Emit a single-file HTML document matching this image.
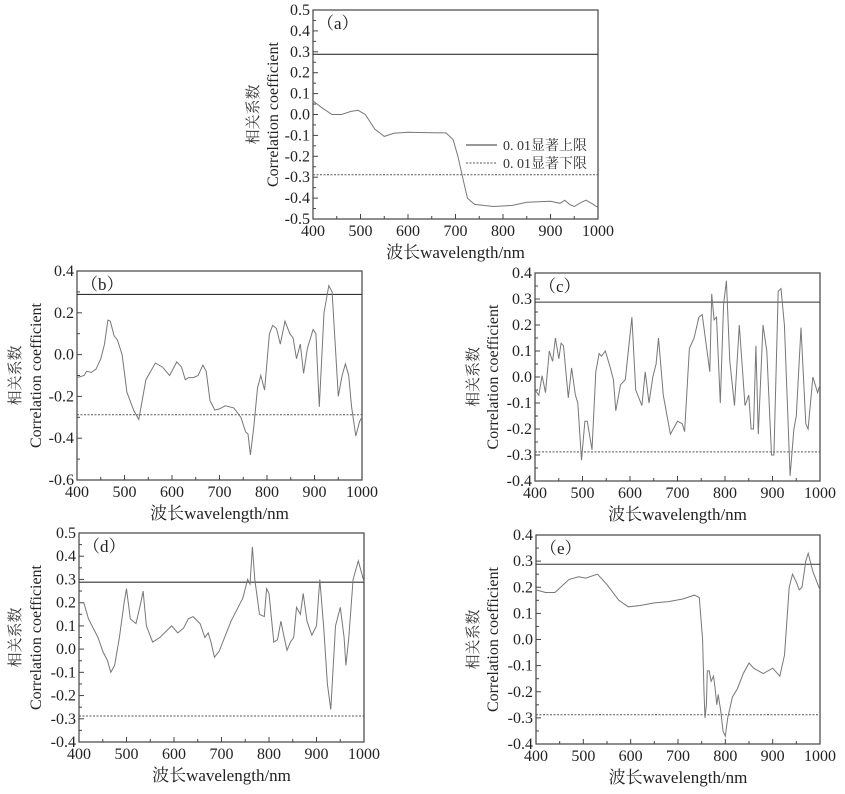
<!DOCTYPE html>
<html><head><meta charset="utf-8"><style>
body{margin:0;background:#fff;}
svg{display:block;font-family:"Liberation Serif","Noto Serif CJK SC","Noto Sans CJK SC",serif;}
</style></head><body>
<svg id="fig" width="845" height="794" xmlns="http://www.w3.org/2000/svg"></svg>
<script>
const threshold = 0.288;
const aX=[400,420,440,460,480,495,510,530,550,570,600,650,680,695,705,715,725,740,780,820,850,900,920,930,940,950,965,975,990,1000];
const aY=[.065,.03,0,0,.015,.02,0,-.07,-.105,-.09,-.085,-.087,-.088,-.12,-.2,-.3,-.4,-.43,-.44,-.435,-.42,-.415,-.425,-.41,-.43,-.44,-.42,-.41,-.43,-.445];
const bX=[400,415,420,430,440,450,458,465,470,478,485,495,505,520,530,545,565,580,595,610,620,628,635,645,655,665,672,680,690,700,712,730,745,755,760,765,772,780,787,795,805,812,820,828,838,848,855,862,870,877,885,897,903,910,920,930,937,950,958,965,972,978,987,995,1000];
const bY=[-.11,-.1,-.08,-.085,-.07,-.02,.05,.165,.16,.09,.07,0,-.18,-.27,-.31,-.12,-.04,-.06,-.1,-.035,-.06,-.12,-.11,-.11,-.1,-.05,-.08,-.22,-.265,-.26,-.245,-.255,-.3,-.37,-.38,-.48,-.35,-.16,-.1,-.17,.1,.14,.125,.05,.16,.1,.08,-.02,.05,-.09,.03,.12,.1,-.25,.2,.33,.3,-.2,-.1,-.045,-.1,-.25,-.39,-.32,-.3];
const cX=[400,408,415,422,430,437,443,450,455,460,470,477,485,490,498,505,510,520,528,535,540,548,558,565,570,580,590,604,612,625,632,640,648,655,660,670,685,700,710,715,725,735,745,752,760,768,772,777,782,790,797,803,810,820,830,842,850,855,860,865,870,880,888,898,903,912,918,925,937,945,950,960,970,975,985,995,1000];
const cY=[-.05,-.07,.005,-.06,.1,.06,.15,.07,.13,.12,-.08,.035,-.07,-.1,-.32,-.17,-.17,-.28,.02,.09,.08,.1,.04,-.01,-.13,-.03,-.01,.23,-.05,-.11,.02,-.1,0,.05,.15,-.07,-.22,-.17,-.18,-.21,.11,.15,.23,.24,.13,.02,.32,.22,.23,-.1,.28,.37,.06,-.11,.2,-.11,-.07,-.2,-.2,.12,-.22,.2,.1,-.3,-.3,.33,.34,.2,-.38,-.2,-.15,.19,-.18,-.2,0,-.06,-.03];
const dX=[400,410,420,440,450,460,467,475,485,495,500,508,520,530,535,542,555,570,595,608,620,630,640,655,665,672,678,685,695,720,745,755,760,765,770,780,790,795,800,810,818,825,832,838,845,852,858,866,872,880,890,900,907,915,923,930,940,950,958,962,968,977,988,1000];
const dY=[.2,.2,.13,.05,-.01,-.05,-.1,-.07,.05,.2,.26,.13,.11,.2,.25,.1,.03,.05,.1,.07,.09,.13,.14,.11,.05,.07,.03,-.035,-.01,.12,.22,.3,.28,.44,.3,.15,.14,.26,.24,.03,.04,.12,.05,-.005,.03,.05,.18,.15,.24,.12,.06,.1,.3,.1,-.15,-.26,.1,.18,.05,-.07,.05,.3,.38,.29];
const eX=[400,420,440,470,490,505,530,550,575,595,620,650,680,710,735,745,752,755,757,760,762,766,770,775,778,782,785,790,795,800,805,815,825,838,850,860,880,900,915,925,935,942,950,956,962,970,975,985,1000];
const eY=[.19,.18,.18,.23,.24,.235,.25,.21,.15,.125,.13,.14,.145,.155,.17,.16,0,-.2,-.3,-.25,-.12,-.12,-.16,-.14,-.18,-.25,-.21,-.27,-.35,-.37,-.3,-.22,-.19,-.13,-.09,-.11,-.13,-.11,-.14,-.06,.2,.25,.22,.19,.2,.3,.33,.26,.19];
const xTicks=[400,500,600,700,800,900,1000];
const aTicks=[-.5,-.4,-.3,-.2,-.1,0,.1,.2,.3,.4,.5];
const bTicks=[-.6,-.4,-.2,0,.2,.4];
const cTicks=[-.4,-.3,-.2,-.1,0,.1,.2,.3,.4];
const dTicks=[-.4,-.3,-.2,-.1,0,.1,.2,.3,.4,.5];
const eTicks=[-.4,-.3,-.2,-.1,0,.1,.2,.3,.4];

const NS="http://www.w3.org/2000/svg";
const svg=document.getElementById('fig');
function mk(tag,attrs,parent,text){const e=document.createElementNS(NS,tag);for(const k in attrs)e.setAttribute(k,attrs[k]);if(text!==undefined)e.textContent=text;(parent||svg).appendChild(e);return e;}
function fmt(v,dec){return v.toFixed(dec);}

function panel(id,L,R,T,B,ymin,ymax,yTicks,dec,xs,ys,ytX1,ytX2,legend){
  const g=mk('g',{});
  
  
  const sx=v=>L+(v-400)/600*(R-L);
  const sy=v=>B-(v-ymin)/(ymax-ymin)*(B-T);
  const frame=mk('rect',{x:L,y:T,width:R-L,height:B-T,fill:'none',stroke:'#444','stroke-width':1.2},g);
  
  
  // x ticks
  xTicks.forEach((t,i)=>{
    mk('line',{x1:sx(t),x2:sx(t),y1:B,y2:B-5,stroke:'#444'},g);
    if(i<xTicks.length-1) mk('line',{x1:sx(t+50),x2:sx(t+50),y1:B,y2:B-3,stroke:'#444'},g);
    const tx=mk('text',{x:sx(t),y:B+17,'font-size':16,'text-anchor':'middle',fill:'#222'},g,String(t));
    
    
  });
  yTicks.forEach((t,i)=>{
    mk('line',{x1:L,x2:L+5,y1:sy(t),y2:sy(t),stroke:'#444'},g);
    if(i<yTicks.length-1){const m=(t+yTicks[i+1])/2;mk('line',{x1:L,x2:L+3,y1:sy(m),y2:sy(m),stroke:'#444'},g);}
    const ty=mk('text',{x:L-3,y:sy(t)+5,'font-size':16,'text-anchor':'end',fill:'#222'},g,fmt(t,dec));
    
    
  });
  const up=mk('line',{x1:L,x2:R,y1:sy(threshold),y2:sy(threshold),stroke:'#333','stroke-width':1.1},g);
  
  
  const lo=mk('line',{x1:L,x2:R,y1:sy(-threshold),y2:sy(-threshold),stroke:'#555','stroke-width':1,'stroke-dasharray':'2,1.5'},g);
  
  
  const pts=xs.map((x,i)=>sx(x).toFixed(1)+','+sy(ys[i]).toFixed(1)).join(' ');
  const pl=mk('polyline',{points:pts,fill:'none',stroke:'#777','stroke-width':1},g);
  
  
  const lab=mk('text',{x:L+4,y:T+19,'font-size':17,fill:'#222'},g,'（'+id+'）');
  
  
  const cy=(T+B)/2;
  const t1=mk('text',{x:ytX1,y:cy,'font-size':15,'text-anchor':'middle',fill:'#333',transform:'rotate(-90 '+ytX1+' '+cy+')'},g,'相关系数');
  
  
  const t2=mk('text',{x:ytX2,y:cy,'font-size':16,'text-anchor':'middle',fill:'#222',transform:'rotate(-90 '+ytX2+' '+cy+')'},g,'Correlation coefficient');
  
  
  const xt=mk('text',{x:(L+R)/2,y:B+39,'font-size':17,'text-anchor':'middle',fill:'#222'},g,'波长wavelength/nm');
  
  
  if(legend){
    const lg=mk('g',{},g);
    
    
    mk('line',{x1:466,x2:497,y1:145,y2:145,stroke:'#333'},lg);
    const e1=mk('text',{x:503,y:150,'font-size':14,fill:'#333'},lg,'0. 01显著上限');
    
    
    mk('line',{x1:466,x2:497,y1:163,y2:163,stroke:'#555','stroke-dasharray':'2,1.5'},lg);
    const e2=mk('text',{x:503,y:168,'font-size':14,fill:'#333'},lg,'0. 01显著下限');
    
    
  }
}
panel('a',313,598,10,219,-.5,.5,aTicks,1,aX,aY,258,278,true);
panel('b',77,362,271,480,-.6,.4,bTicks,1,bX,bY,20,41,false);
panel('c',535,820,273,481,-.4,.4,cTicks,1,cX,cY,478,498,false);
panel('d',79,364,533,742,-.4,.5,dTicks,1,dX,dY,20,41,false);
panel('e',536,820,535,744,-.4,.4,eTicks,1,eX,eY,478,498,false);
</script>
</body></html>
